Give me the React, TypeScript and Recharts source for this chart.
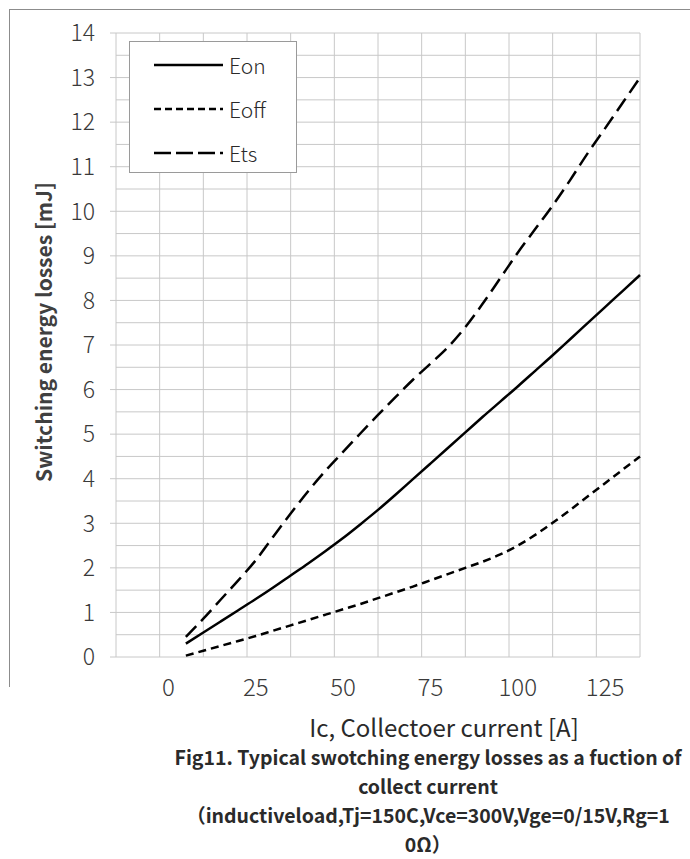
import React from "react";
import { LineChart, Line, XAxis, YAxis, CartesianGrid, Legend } from "recharts";

// collector current [A]
const currents = [
    5, 10, 15, 20, 25, 30, 35, 40, 45, 50, 55, 60, 65, 70, 75, 80, 85, 90, 95,
    100, 105, 110, 115, 120, 125, 130, 135,
];
// energy losses [mJ]
const eon = [
    0.3, 0.55, 0.8, 1.05, 1.3, 1.56, 1.83, 2.1, 2.38, 2.67, 2.98, 3.3, 3.64,
    3.99, 4.34, 4.69, 5.04, 5.39, 5.73, 6.07, 6.42, 6.77, 7.13, 7.49, 7.85,
    8.21, 8.57,
];
const eoff = [
    0.03, 0.14, 0.25, 0.36, 0.47, 0.59, 0.71, 0.83, 0.95, 1.07, 1.19, 1.32,
    1.45, 1.58, 1.72, 1.86, 2.0, 2.14, 2.3, 2.5, 2.74, 3.01, 3.3, 3.6, 3.9,
    4.2, 4.5,
];
const ets = [
    0.45, 0.86, 1.29, 1.72, 2.17, 2.7, 3.22, 3.72, 4.18, 4.6, 5.02, 5.43, 5.83,
    6.22, 6.58, 6.95, 7.4, 7.93, 8.5, 9.07, 9.6, 10.13, 10.7, 11.3, 11.86,
    12.43, 13.0,
];

const xTicks = [0, 25, 50, 75, 100, 125];
const xGridLines = [
    -15, -2.5, 10, 22.5, 35, 47.5, 60, 72.5, 85, 97.5, 110, 122.5, 135,
];
const yTicks = [
    0, 0.5, 1, 1.5, 2, 2.5, 3, 3.5, 4, 4.5, 5, 5.5, 6, 6.5, 7, 7.5, 8, 8.5, 9,
    9.5, 10, 10.5, 11, 11.5, 12, 12.5, 13, 13.5, 14,
];

const yTitle = "Switching energy losses [mJ]";
const xTitle = "Ic, Collectoer current [A]";
const captionLines = [
    "Fig11. Typical swotching energy losses as a fuction of",
    "collect current",
    "（inductiveload,Tj=150C,Vce=300V,Vge=0/15V,Rg=1",
    "0Ω）",
];

const FONT = '"Noto Sans CJK SC", "Noto Sans", sans-serif';

const chartData = currents.map((ic, i) => ({
    ic,
    Eon: eon[i],
    Eoff: eoff[i],
    Ets: ets[i],
}));

const seriesStyle = [
    { key: "Eon", dash: undefined, legendDash: undefined },
    { key: "Eoff", dash: "8 5", legendDash: "7 4" },
    { key: "Ets", dash: "15 7", legendDash: "17 5" },
];

const YTick = (props: any) => {
    const { x, y, payload } = props;
    if (!Number.isInteger(payload.value)) return <g />;
    return (
        <g>
            <line x1={x + 2} x2={x + 8} y1={y} y2={y} stroke="#c8c8c8" />
            <text
                x={x - 13}
                y={y}
                dy="0.36em"
                textAnchor="end"
                fontSize={23}
                fontFamily={FONT}
                fontWeight={300}
                fill="#3a3a3a"
            >
                {payload.value}
            </text>
        </g>
    );
};

const renderLegend = () => (
    <div
        style={{
            width: 168,
            height: 132,
            boxSizing: "border-box",
            border: "1px solid #9a9a9a",
            background: "#fff",
            paddingTop: 1,
        }}
    >
        {seriesStyle.map((s) => (
            <div
                key={s.key}
                style={{
                    display: "flex",
                    alignItems: "center",
                    height: 44,
                    fontFamily: FONT,
                    fontSize: 21,
                    fontWeight: 300,
                    color: "#2a2a2a",
                }}
            >
                <svg width={94} height={10} style={{ flex: "none" }}>
                    <line
                        x1={24}
                        x2={93}
                        y1={5}
                        y2={5}
                        stroke="#000"
                        strokeWidth={2.5}
                        strokeDasharray={s.legendDash}
                    />
                </svg>
                <span style={{ marginLeft: 5 }}>{s.key}</span>
            </div>
        ))}
    </div>
);

export default function App() {
    return (
        <div
            style={{
                position: "absolute",
                left: 0,
                top: 0,
                width: 690,
                height: 859,
                overflow: "hidden",
                background: "#fff",
            }}
        >
            <div
                style={{
                    position: "absolute",
                    left: 9,
                    top: 9,
                    width: 700,
                    height: 677,
                    borderLeft: "1px solid #8c8c8c",
                    borderTop: "1px solid #8c8c8c",
                }}
            />
            <div style={{ position: "absolute", left: 0, top: 0 }}>
                <LineChart
                    width={690}
                    height={708}
                    data={chartData}
                    margin={{ top: 33, right: 50, left: 26, bottom: 11 }}
                >
                    <CartesianGrid stroke="#c8c8c8" xAxisId="grid" />
                    <XAxis
                        xAxisId="grid"
                        dataKey="ic"
                        type="number"
                        domain={[-15, 135]}
                        ticks={xGridLines}
                        interval={0}
                        hide
                    />
                    <XAxis
                        dataKey="ic"
                        type="number"
                        domain={[-15, 135]}
                        ticks={xTicks}
                        height={40}
                        axisLine={false}
                        tickLine={false}
                        tickSize={0}
                        tickMargin={22}
                        interval={0}
                        tick={{
                            fontSize: 24,
                            fontFamily: FONT,
                            fontWeight: 300,
                            fill: "#3a3a3a",
                        }}
                    />
                    <YAxis
                        type="number"
                        domain={[0, 14]}
                        ticks={yTicks}
                        width={90}
                        axisLine={false}
                        tickLine={false}
                        interval={0}
                        tick={<YTick />}
                    />
                    <Legend
                        layout="vertical"
                        align="center"
                        verticalAlign="middle"
                        content={renderLegend}
                        wrapperStyle={{
                            left: 129,
                            top: 41,
                            width: 168,
                            height: 132,
                        }}
                    />
                    {seriesStyle.map((s) => (
                        <Line
                            key={s.key}
                            type="monotone"
                            dataKey={s.key}
                            stroke="#000"
                            strokeWidth={2.5}
                            strokeDasharray={s.dash}
                            dot={false}
                            isAnimationActive={false}
                        />
                    ))}
                </LineChart>
            </div>
            <div
                style={{
                    position: "absolute",
                    left: 43,
                    top: 332,
                    transform: "translate(-50%, -50%) rotate(-90deg)",
                    whiteSpace: "nowrap",
                    fontFamily: FONT,
                    fontSize: 21,
                    fontWeight: 600,
                    color: "#404040",
                }}
            >
                {yTitle}
            </div>
            <div
                style={{
                    position: "absolute",
                    left: 144,
                    width: 600,
                    top: 716,
                    textAlign: "center",
                    whiteSpace: "nowrap",
                    fontFamily: FONT,
                    fontSize: 24,
                    fontWeight: 400,
                    lineHeight: "22px",
                    color: "#2a2a2a",
                }}
            >
                {xTitle}
            </div>
            {captionLines.map((line, i) => (
                <div
                    key={i}
                    style={{
                        position: "absolute",
                        left: 128,
                        width: 600,
                        top: 745 + i * 29,
                        textAlign: "center",
                        whiteSpace: "nowrap",
                        fontFamily: FONT,
                        fontSize: 19.5,
                        fontWeight: 700,
                        lineHeight: "24px",
                        color: "#2a2a2a",
                    }}
                >
                    {line}
                </div>
            ))}
        </div>
    );
}
